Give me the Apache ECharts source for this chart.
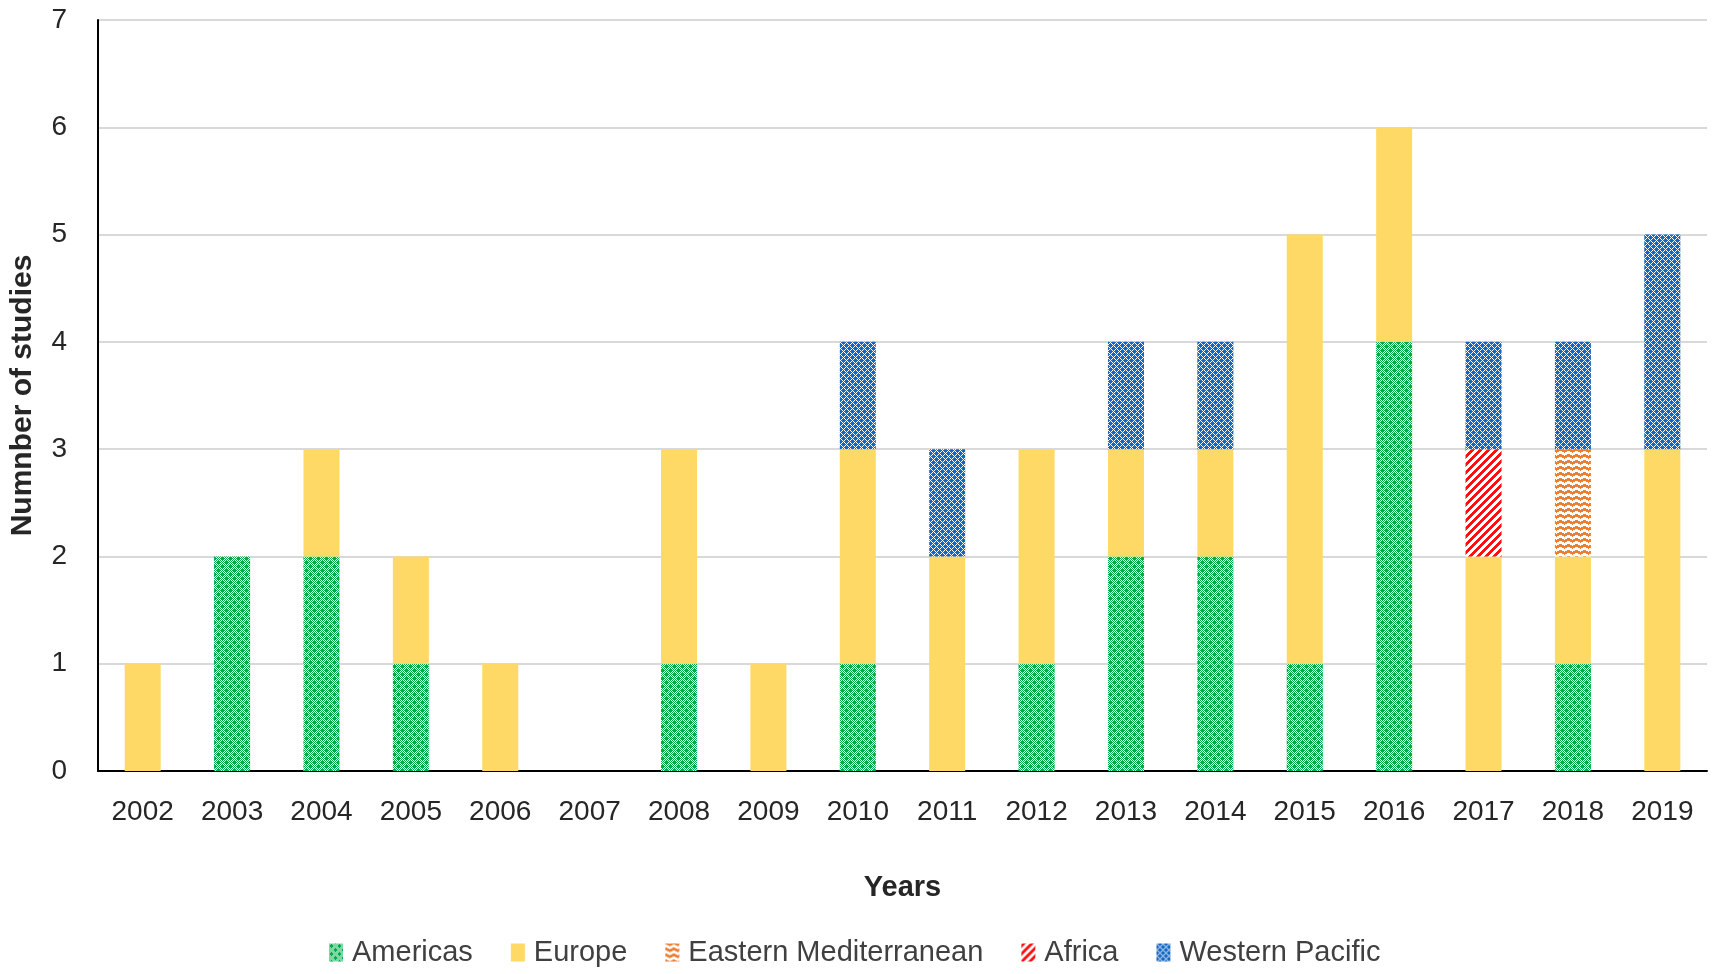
<!DOCTYPE html>
<html>
<head>
<meta charset="utf-8">
<script src="https://cdn.jsdelivr.net/npm/echarts@6/dist/echarts.min.js"></script>
<style>
html,body{margin:0;padding:0;background:#fff;}
#chart{width:1713px;height:974px;}
</style>
</head>
<body>
<div id="chart"></div>
<script>
const years = ['2002','2003','2004','2005','2006','2007','2008','2009','2010','2011','2012','2013','2014','2015','2016','2017','2018','2019'];
const americas       = [0,2,2,1,0,0,1,0,1,0,1,2,2,1,4,0,1,0];
const europe         = [1,0,1,1,1,0,2,1,2,2,2,1,1,4,2,2,1,3];
const easternMed     = [0,0,0,0,0,0,0,0,0,0,0,0,0,0,0,0,1,0];
const africa         = [0,0,0,0,0,0,0,0,0,0,0,0,0,0,0,1,0,0];
const westernPacific = [0,0,0,0,0,0,0,0,1,1,0,1,1,0,0,1,1,2];
const yTicks = [0,1,2,3,4,5,6,7];

function tile(w, h, fn) {
  const c = document.createElement('canvas');
  c.width = w; c.height = h;
  const ctx = c.getContext('2d');
  ctx.fillStyle = '#ffffff';
  ctx.fillRect(0, 0, w, h);
  fn(ctx, w, h);
  return c;
}
function px(ctx, x, y, col) { ctx.fillStyle = col; ctx.fillRect(x, y, 1, 1); }

const greenPat = tile(8, 8, (ctx, w, h) => {
  const g = '#00AC4A';
  for (let y = 0; y < h; y++) for (let x = 0; x < w; x++) if ((x + y) % 2 === 0) px(ctx, x, y, g);
  [[2,2],[6,6]].forEach(([cx, cy]) => {
    [[0,0],[1,0],[-1,0],[0,1],[0,-1]].forEach(([dx, dy]) => px(ctx, (cx+dx+w)%w, (cy+dy+h)%h, g));
  });
});
const bluePat = tile(6, 6, (ctx, w, h) => {
  const b = '#1467C2';
  for (let y = 0; y < h; y++) for (let x = 0; x < w; x++) {
    if ((x + y) % 6 !== 0 && ((x - y) % 6 + 6) % 6 !== 0) px(ctx, x, y, b);
  }
});
const redPat = tile(8, 8, (ctx, w, h) => {
  for (let y = 0; y < h; y++) for (let x = 0; x < w; x++) if ((x + y) % 8 < 4) px(ctx, x, y, '#FF1010');
});
const orangePat = tile(8, 6, (ctx, w, h) => {
  for (let y = 0; y < h; y++) for (let x = 0; x < w; x++) {
    const t = Math.abs((x % 8) - 4) / 2;
    if (((y + Math.round(t)) % 6) < 3) px(ctx, x, y, '#ED7D31');
  }
});

const txt = '#262626';
const font = 'Liberation Sans, Arial, sans-serif';

function mk(name, data, color) {
  return {
    name: name, type: 'bar', stack: 'total', data: data, barWidth: 36,
    itemStyle: { color: color },
    emphasis: { disabled: true }
  };
}

const chart = echarts.init(document.getElementById('chart'));
chart.setOption({
  animation: false,
  textStyle: { fontFamily: font, color: txt },
  grid: { left: 96, right: 6, top: 20, bottom: 203, containLabel: false },
  legend: {
    bottom: 2, left: 324, itemGap: 38, itemWidth: 14, itemHeight: 18, icon: 'rect',
    textStyle: { fontSize: 29, color: '#404040', fontFamily: font, padding: [0, 0, 0, 4] },
    data: ['Americas', 'Europe', 'Eastern Mediterranean', 'Africa', 'Western Pacific']
  },
  xAxis: {
    type: 'category', data: years,
    name: 'Years', nameLocation: 'middle', nameGap: 102,
    nameTextStyle: { fontSize: 29, fontWeight: 'bold', color: txt, fontFamily: font },
    axisLine: { lineStyle: { color: '#000', width: 2 } },
    axisTick: { show: false },
    axisLabel: { fontSize: 28, color: txt, margin: 27 }
  },
  yAxis: {
    type: 'value', min: yTicks[0], max: yTicks[yTicks.length - 1], interval: 1,
    name: 'Numnber of studies', nameLocation: 'middle', nameGap: 60,
    nameTextStyle: { fontSize: 30, fontWeight: 'bold', color: txt, fontFamily: font },
    axisLine: { show: true, lineStyle: { color: '#000', width: 2 } },
    axisTick: { show: false },
    axisLabel: { fontSize: 28, color: txt, margin: 31 },
    splitLine: { lineStyle: { color: '#D9D9D9', width: 2 } }
  },
  series: [
    mk('Americas', americas, { image: greenPat, repeat: 'repeat' }),
    mk('Europe', europe, '#FFD966'),
    mk('Eastern Mediterranean', easternMed, { image: orangePat, repeat: 'repeat' }),
    mk('Africa', africa, { image: redPat, repeat: 'repeat' }),
    mk('Western Pacific', westernPacific, { image: bluePat, repeat: 'repeat' })
  ]
});
</script>
</body>
</html>
